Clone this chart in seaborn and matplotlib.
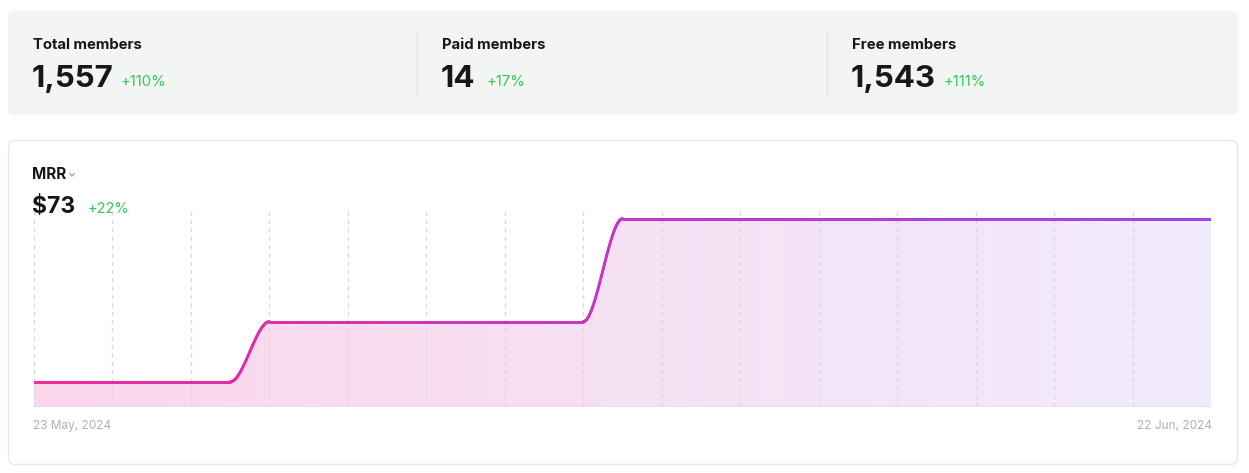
import numpy as np
import pandas as pd
import matplotlib
matplotlib.use("Agg")
import matplotlib.pyplot as plt
import seaborn as sns
from matplotlib.collections import LineCollection
from matplotlib.colors import LinearSegmentedColormap
from matplotlib.patches import FancyBboxPatch, Polygon

# Kennzahlen oben
stat_titles = ["Total members", "Paid members", "Free members"]
stat_values = ["1,557", "14", "1,543"]
stat_changes = ["+110%", "+17%", "+111%"]

# MRR pro Tag, 23 May bis 22 Jun 2024
dates = pd.date_range("2024-05-23", "2024-06-22", freq="D")
mrr = [60, 60, 60, 60, 60, 60,
       64.8, 64.8, 64.8, 64.8, 64.8, 64.8, 64.8, 64.8, 64.8,
       73, 73, 73, 73, 73, 73, 73, 73, 73, 73, 73, 73, 73, 73, 73, 73]
mrr_label = "$73"
mrr_change = "+22%"
date_labels = ["23 May, 2024", "22 Jun, 2024"]

sns.set_theme(style="white")
plt.rcParams["font.family"] = ["Inter", "DejaVu Sans"]

W, H = 1249, 473
fig = plt.figure(figsize=(W / 100, H / 100), dpi=100)
fig.patch.set_facecolor("white")

# Hintergrund-Achse in Pixelkoordinaten
bg = fig.add_axes([0, 0, 1, 1])
bg.set_xlim(0, W)
bg.set_ylim(H, 0)
bg.axis("off")

bg.add_patch(FancyBboxPatch((8, 11), 1230, 104, boxstyle="round,pad=0,rounding_size=6",
                            fc="#f3f4f4", ec="none"))
for xd in [417, 827]:
    bg.plot([xd, xd], [32, 95], color="#e2e4e4", lw=1)

green = "#2fc95a"
dark = "#15171a"
xs0 = [33, 442, 852]
chg_x = [121, 487, 944]
for i in range(3):
    bg.text(xs0[i], 49, stat_titles[i], fontsize=10.7, fontweight="bold", color=dark, va="baseline")
    bg.text(xs0[i] - 1, 87, stat_values[i], fontsize=22.5, fontweight="bold", color=dark, va="baseline")
    bg.text(chg_x[i], 86, stat_changes[i], fontsize=10.7, color=green, va="baseline")

bg.add_patch(FancyBboxPatch((8.5, 140.5), 1229, 324, boxstyle="round,pad=0,rounding_size=7",
                            fc="white", ec="#e6e8ea", lw=1))
bg.text(32, 179, "MRR", fontsize=11, fontweight="bold", color=dark, va="baseline")
bg.plot([69.5, 72, 74.5], [173.5, 176, 173.5], color="#9aa0a8", lw=0.9)
bg.text(32, 213, mrr_label, fontsize=16.5, fontweight="bold", color=dark, va="baseline")
bg.text(88, 213, mrr_change, fontsize=10.5, color=green, va="baseline")
bg.text(33, 429, date_labels[0], fontsize=8.5, color="#a8b1bf", va="baseline", ha="left")
bg.text(1212, 429, date_labels[1], fontsize=8.5, color="#a8b1bf", va="baseline", ha="right")

# Diagramm
ax = fig.add_axes([34 / W, (H - 407) / H, 1177 / W, 197 / H])
ax.set_facecolor("none")
days = np.arange(len(mrr))
y = np.array(mrr, dtype=float)
ymin, ymax = 58.0, 73.7
ax.set_xlim(days[0], days[-1])
ax.set_ylim(ymin, ymax)

# glatte Kurve (monotone kubisch, flache Nachbarn -> Tangente 0)
xd = np.linspace(days[0], days[-1], 3000)
seg = np.clip(np.floor(xd).astype(int), 0, len(mrr) - 2)
t = xd - seg
h = 3 * t ** 2 - 2 * t ** 3
yd = y[seg] + (y[seg + 1] - y[seg]) * h

fill_cmap = LinearSegmentedColormap.from_list("f", ["#fcd6eb", "#f1ebfd"])
line_cmap = LinearSegmentedColormap.from_list("l", ["#f0289a", "#c535c8", "#9a45e8"])

grad = np.linspace(0, 1, 256).reshape(1, -1)
im = ax.imshow(grad, extent=[days[0], days[-1], ymin, ymax], aspect="auto",
               cmap=fill_cmap, origin="lower", zorder=1)
poly = Polygon(np.column_stack([np.r_[xd, xd[-1], xd[0]], np.r_[yd, ymin, ymin]]),
               closed=True, transform=ax.transData, fc="none", ec="none")
ax.add_patch(poly)
im.set_clip_path(poly)

ax.vlines(days[::2], ymin, ymax, colors="#d9d5e2", linestyles=(0, (3, 3)), lw=1, zorder=2)
ax.axhline(ymin, color="#e0dfe8", lw=1.2, zorder=2)

pts = np.column_stack([xd, yd]).reshape(-1, 1, 2)
segs = np.concatenate([pts[:-1], pts[1:]], axis=1)
lc = LineCollection(segs, colors=line_cmap(np.linspace(0, 1, len(segs))), lw=2.0,
                    capstyle="round", zorder=3)
ax.add_collection(lc)

ax.set_xticks([])
ax.set_yticks([])
sns.despine(ax=ax, left=True, bottom=True)

fig.savefig("out.png", dpi=100, facecolor="white")
